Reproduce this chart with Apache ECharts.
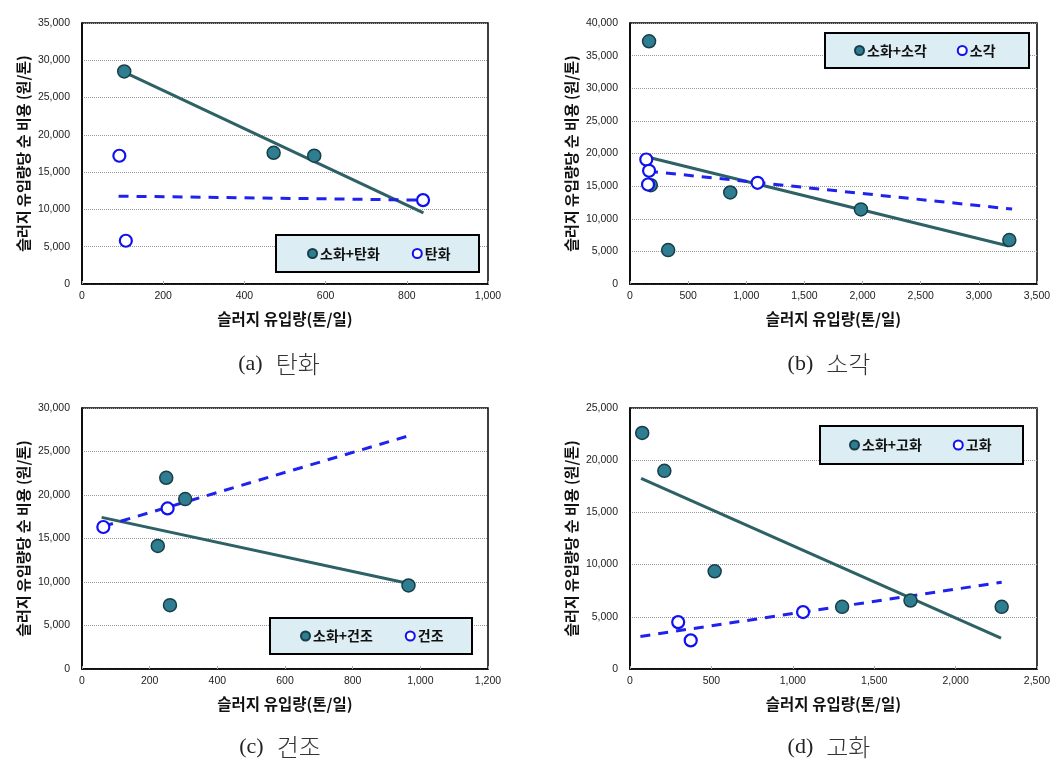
<!DOCTYPE html>
<html><head><meta charset="utf-8">
<script src="https://cdn.jsdelivr.net/npm/echarts@6/dist/echarts.min.js"></script>
<style>html,body{margin:0;padding:0;background:#fff}#c{width:1063px;height:773px}</style>
</head><body><div id="c"></div>
<script>
// ---- data ----
const panelNames = ['탄화', '소각', '건조', '고화'];
const captionLetters = ['(a)', '(b)', '(c)', '(d)'];
const xMax = [1000, 3500, 1200, 2500];
const xStep = [200, 500, 200, 500];
const yMax = [35000, 40000, 30000, 25000];
const yStep = [5000, 5000, 5000, 5000];

// (a) 탄화
const aFilled = [[104, 28500], [472, 17600], [572, 17200]];
const aOpen = [[92, 17200], [108, 5800], [840, 11250]];
const aSolidTrend = [[104, 28400], [841, 9550]];
const aDashTrend = [[90, 11780], [840, 11250]];
// (b) 소각
const bFilled = [[164, 37200], [179, 15150], [328, 5200], [862, 14030], [1986, 11430], [3262, 6740]];
const bOpen = [[140, 19080], [164, 17350], [155, 15250], [1097, 15510]];
const bSolidTrend = [[140, 19490], [3256, 5820]];
const bDashTrend = [[155, 17300], [3286, 11480]];
// (c) 건조
const cFilled = [[249, 21980], [305, 19530], [224, 14140], [260, 7340], [965, 9600]];
const cOpen = [[63, 16320], [253, 18460]];
const cSolidTrend = [[58, 17430], [962, 9860]];
const cDashTrend = [[63, 16400], [965, 26800]];
// (d) 고화
const dFilled = [[75, 22610], [211, 18980], [520, 9360], [1303, 5955], [1723, 6560], [2283, 5955]];
const dOpen = [[296, 4490], [373, 2740], [1063, 5450]];
const dSolidTrend = [[68, 18250], [2279, 2960]];
const dDashTrend = [[64, 3120], [2283, 8310]];

const filledSets = [aFilled, bFilled, cFilled, dFilled];
const openSets = [aOpen, bOpen, cOpen, dOpen];
const solidSets = [aSolidTrend, bSolidTrend, cSolidTrend, dSolidTrend];
const dashSets = [aDashTrend, bDashTrend, cDashTrend, dDashTrend];

const xTitle = '슬러지 유입량(톤/일)';
const yTitle = '슬러지 유입량당 순 비용 (원/톤)';

// ---- layout ----
const grids = [
  {left: 82, top: 23, width: 406, height: 261},
  {left: 630, top: 23, width: 407, height: 261},
  {left: 82, top: 408, width: 406, height: 261},
  {left: 630, top: 408, width: 407, height: 261}
];
const legendBoxes = [
  {x: 276, y: 235, w: 203, h: 37, itemLeft: 307, gap: 32},
  {x: 825, y: 33, w: 204, h: 35, itemLeft: 854, gap: 30},
  {x: 270, y: 618, w: 202, h: 36, itemLeft: 300, gap: 32},
  {x: 820, y: 426, w: 203, h: 38, itemLeft: 849, gap: 31}
];
const captionPos = [[279, 364], [829, 364], [280, 747], [829, 747]];

const FONT = '"Noto Sans CJK KR", "Liberation Sans", sans-serif';
const fmt = v => v.toLocaleString('en-US');

const option = {
  backgroundColor: '#fff',
  animation: false,
  grid: [], xAxis: [], yAxis: [], series: [], legend: [],
  graphic: {elements: []}
};

for (let i = 0; i < 4; i++) {
  option.grid.push(Object.assign({show: true, borderColor: '#000', borderWidth: 1.5, backgroundColor: '#fff'}, grids[i]));
  option.xAxis.push({
    type: 'value', gridIndex: i, min: 0, max: xMax[i], interval: xStep[i],
    name: xTitle, nameLocation: 'middle', nameGap: 27,
    nameTextStyle: {fontFamily: FONT, fontSize: 15.5, fontWeight: 'bold', color: '#111'},
    axisLine: {show: true, lineStyle: {color: '#000', width: 1.5}},
    axisTick: {show: true, inside: true, length: 3, lineStyle: {color: '#aaa'}},
    axisLabel: {formatter: fmt, fontFamily: '"Liberation Sans", sans-serif', fontSize: 10.5, color: '#222', margin: 7},
    splitLine: {show: false}
  });
  option.yAxis.push({
    type: 'value', gridIndex: i, min: 0, max: yMax[i], interval: yStep[i],
    name: yTitle, nameLocation: 'middle', nameGap: 51,
    nameTextStyle: {fontFamily: FONT, fontSize: 15, fontWeight: 'bold', color: '#111'},
    axisLine: {show: true, lineStyle: {color: '#000', width: 1.5}},
    axisTick: {show: false},
    axisLabel: {formatter: fmt, fontFamily: '"Liberation Sans", sans-serif', fontSize: 10.5, color: '#222', margin: 12},
    splitLine: {show: true, lineStyle: {color: '#999', type: 'dotted', width: 1}}
  });
  const filledName = '소화+' + panelNames[i];
  const openName = panelNames[i];
  option.series.push({
    type: 'line', xAxisIndex: i, yAxisIndex: i, data: solidSets[i], symbol: 'none', z: 2,
    lineStyle: {color: '#2d6165', width: 3}, silent: true
  });
  option.series.push({
    type: 'line', xAxisIndex: i, yAxisIndex: i, data: dashSets[i], symbol: 'none', z: 2,
    lineStyle: {color: '#1f22ee', width: 3, type: [10, 8]}, silent: true
  });
  option.series.push({
    name: filledName, type: 'scatter', xAxisIndex: i, yAxisIndex: i, data: filledSets[i],
    symbol: 'circle', symbolSize: 13, z: 3,
    itemStyle: {color: '#2f7d90', borderColor: '#173e48', borderWidth: 1.5, opacity: 1}
  });
  option.series.push({
    name: openName, type: 'scatter', xAxisIndex: i, yAxisIndex: i, data: openSets[i],
    symbol: 'circle', symbolSize: 12, z: 3,
    itemStyle: {color: '#fff', borderColor: '#1010f0', borderWidth: 2.2, opacity: 1}
  });
  const lb = legendBoxes[i];
  option.graphic.elements.push({
    type: 'rect', z: 10, shape: {x: lb.x, y: lb.y, width: lb.w, height: lb.h},
    style: {fill: '#dcedf4', stroke: '#000', lineWidth: 2}
  });
  option.legend.push({
    data: [filledName, openName], left: lb.itemLeft, top: lb.y + lb.h / 2 - 8,
    orient: 'horizontal', padding: 0, itemGap: lb.gap, itemWidth: 9, itemHeight: 9,
    icon: 'circle', z: 20, selectedMode: false,
    textStyle: {fontFamily: FONT, fontSize: 14, fontWeight: 'bold', color: '#111', lineHeight: 16, padding: [0, 0, 0, -2]}
  });
  option.graphic.elements.push({
    type: 'text', x: captionPos[i][0], y: captionPos[i][1], z: 10,
    style: {
      text: '{l|' + captionLetters[i] + '}{k|' + panelNames[i] + '}',
      rich: {
        l: {fontSize: 22, fontFamily: '"Liberation Serif", serif', fill: '#222', padding: [0, 13, 0, 0]},
        k: {fontSize: 24, fontFamily: '"Noto Sans CJK KR", sans-serif', fontWeight: 300, fill: '#333'}
      },
      align: 'center', verticalAlign: 'middle'
    }
  });
}

const chart = echarts.init(document.getElementById('c'), null, {renderer: 'canvas'});
chart.setOption(option);
</script>
</body></html>
